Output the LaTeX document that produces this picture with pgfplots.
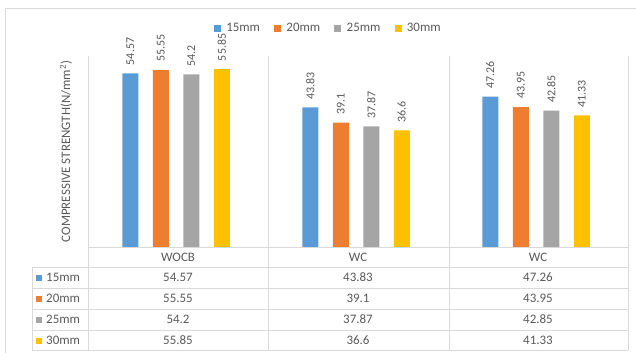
\documentclass[border=0pt]{standalone}
\usepackage{pgfplots}
\pgfplotsset{compat=1.18}
\usepackage{pgfplotstable}
\usepackage{fontspec}
\setmainfont{Carlito}
\definecolor{c1}{HTML}{5B9BD5}
\definecolor{c2}{HTML}{ED7D31}
\definecolor{c3}{HTML}{A5A5A5}
\definecolor{c4}{HTML}{FFC000}
\definecolor{tc}{HTML}{595959}
\definecolor{lc}{HTML}{D9D9D9}
\pgfplotstableread{
x cat s15 s20 s25 s30
0 WOCB 54.57 55.55 54.2 55.85
1 WC 43.83 39.1 37.87 36.6
2 WC 47.26 43.95 42.85 41.33
}\data
\begin{document}
\begin{tikzpicture}
\path[use as bounding box] (0bp,0bp) rectangle (636bp,353bp);
% outer border
\draw[lc, line width=0.8bp] (5bp,-20bp) -- (5bp,345bp) -- (660bp,345bp);
% table grid
\begin{scope}[lc, line width=0.8bp]
\foreach \yy in {86,65,44,23,3} {\draw (32bp,\yy bp) -- (628bp,\yy bp);}
\draw (88bp,106bp) -- (628bp,106bp);
\draw (32bp,86bp) -- (32bp,3bp);
\foreach \xx in {88,268,449,628} {\draw (\xx bp,297bp) -- (\xx bp,3bp);}
\end{scope}
% row labels
\begin{scope}[font=\fontsize{13}{15}\selectfont, text=tc]
\node[anchor=west, inner sep=0pt] at (36bp,75.5bp) {\textcolor{c1}{\rule[0.5bp]{6bp}{6bp}}\hspace{4bp}15mm};
\node[anchor=west, inner sep=0pt] at (36bp,54.5bp) {\textcolor{c2}{\rule[0.5bp]{6bp}{6bp}}\hspace{4bp}20mm};
\node[anchor=west, inner sep=0pt] at (36bp,33.5bp) {\textcolor{c3}{\rule[0.5bp]{6bp}{6bp}}\hspace{4bp}25mm};
\node[anchor=west, inner sep=0pt] at (36bp,13bp) {\textcolor{c4}{\rule[0.5bp]{6bp}{6bp}}\hspace{4bp}30mm};
\end{scope}
\begin{axis}[
  at={(88bp,106bp)}, anchor=south west,
  width=540bp, height=191bp, scale only axis,
  ybar, bar width=16bp,
  xmin=-0.5, xmax=2.5, ymin=0, ymax=60,
  clip=false,
  axis line style={draw=none},
  ytick=\empty,
  xtick={0,1,2}, xticklabels={WOCB,WC,WC},
  major tick length=0pt,
  xticklabel style={anchor=center, yshift=-10bp, font=\fontsize{13}{15}\selectfont, text=tc},
  ylabel={COMPRESSIVE STRENGTH(N/mm\textsuperscript{2})},
  ylabel style={at={(axis description cs:-0.0407,0.5)}, anchor=center, font=\fontsize{13}{15}\selectfont, text=tc},
  legend style={at={(axis description cs:0.445,1.147)}, anchor=center, draw=none, fill=none,
    legend columns=4, font=\fontsize{13}{15}\selectfont, text=tc,
    nodes={inner sep=2bp},
    /tikz/every odd column/.append style={column sep=4bp},
    /tikz/every even column/.append style={column sep=12bp}},
  every node near coord/.append style={font=\fontsize{12}{14}\selectfont, text=tc},
]
\addplot[bar shift=-47.75bp, fill=c1, draw=none, forget plot,
  nodes near coords, point meta=explicit symbolic,
  every node near coord/.append style={yshift=6bp, rotate=90, anchor=west, inner sep=2bp}]
  table[x=x, y=s15, meta=s15]{\data};
\addplot[bar shift=-17.25bp, fill=c2, draw=none, forget plot,
  nodes near coords, point meta=explicit symbolic,
  every node near coord/.append style={yshift=6bp, rotate=90, anchor=west, inner sep=2bp}]
  table[x=x, y=s20, meta=s20]{\data};
\addplot[bar shift=13.25bp, fill=c3, draw=none, forget plot,
  nodes near coords, point meta=explicit symbolic,
  every node near coord/.append style={yshift=6bp, rotate=90, anchor=west, inner sep=2bp}]
  table[x=x, y=s25, meta=s25]{\data};
\addplot[bar shift=43.75bp, fill=c4, draw=none, forget plot,
  nodes near coords, point meta=explicit symbolic,
  every node near coord/.append style={yshift=6bp, rotate=90, anchor=west, inner sep=2bp}]
  table[x=x, y=s30, meta=s30]{\data};
% data table values
\addplot[bar shift=0pt, draw=none, fill=none, forget plot, nodes near coords, point meta=explicit symbolic,
  every node near coord/.append style={anchor=center, font=\fontsize{13}{15}\selectfont}]
  table[x=x, y expr=-9.58, meta=s15]{\data};
\addplot[bar shift=0pt, draw=none, fill=none, forget plot, nodes near coords, point meta=explicit symbolic,
  every node near coord/.append style={anchor=center, font=\fontsize{13}{15}\selectfont}]
  table[x=x, y expr=-16.18, meta=s20]{\data};
\addplot[bar shift=0pt, draw=none, fill=none, forget plot, nodes near coords, point meta=explicit symbolic,
  every node near coord/.append style={anchor=center, font=\fontsize{13}{15}\selectfont}]
  table[x=x, y expr=-22.77, meta=s25]{\data};
\addplot[bar shift=0pt, draw=none, fill=none, forget plot, nodes near coords, point meta=explicit symbolic,
  every node near coord/.append style={anchor=center, font=\fontsize{13}{15}\selectfont}]
  table[x=x, y expr=-29.21, meta=s30]{\data};
\addlegendimage{legend image code/.code={\fill[c1] (0bp,-3bp) rectangle (6bp,3bp);}}\addlegendentry{15mm}
\addlegendimage{legend image code/.code={\fill[c2] (0bp,-3bp) rectangle (6bp,3bp);}}\addlegendentry{20mm}
\addlegendimage{legend image code/.code={\fill[c3] (0bp,-3bp) rectangle (6bp,3bp);}}\addlegendentry{25mm}
\addlegendimage{legend image code/.code={\fill[c4] (0bp,-3bp) rectangle (6bp,3bp);}}\addlegendentry{30mm}
\end{axis}
\end{tikzpicture}
\end{document}
